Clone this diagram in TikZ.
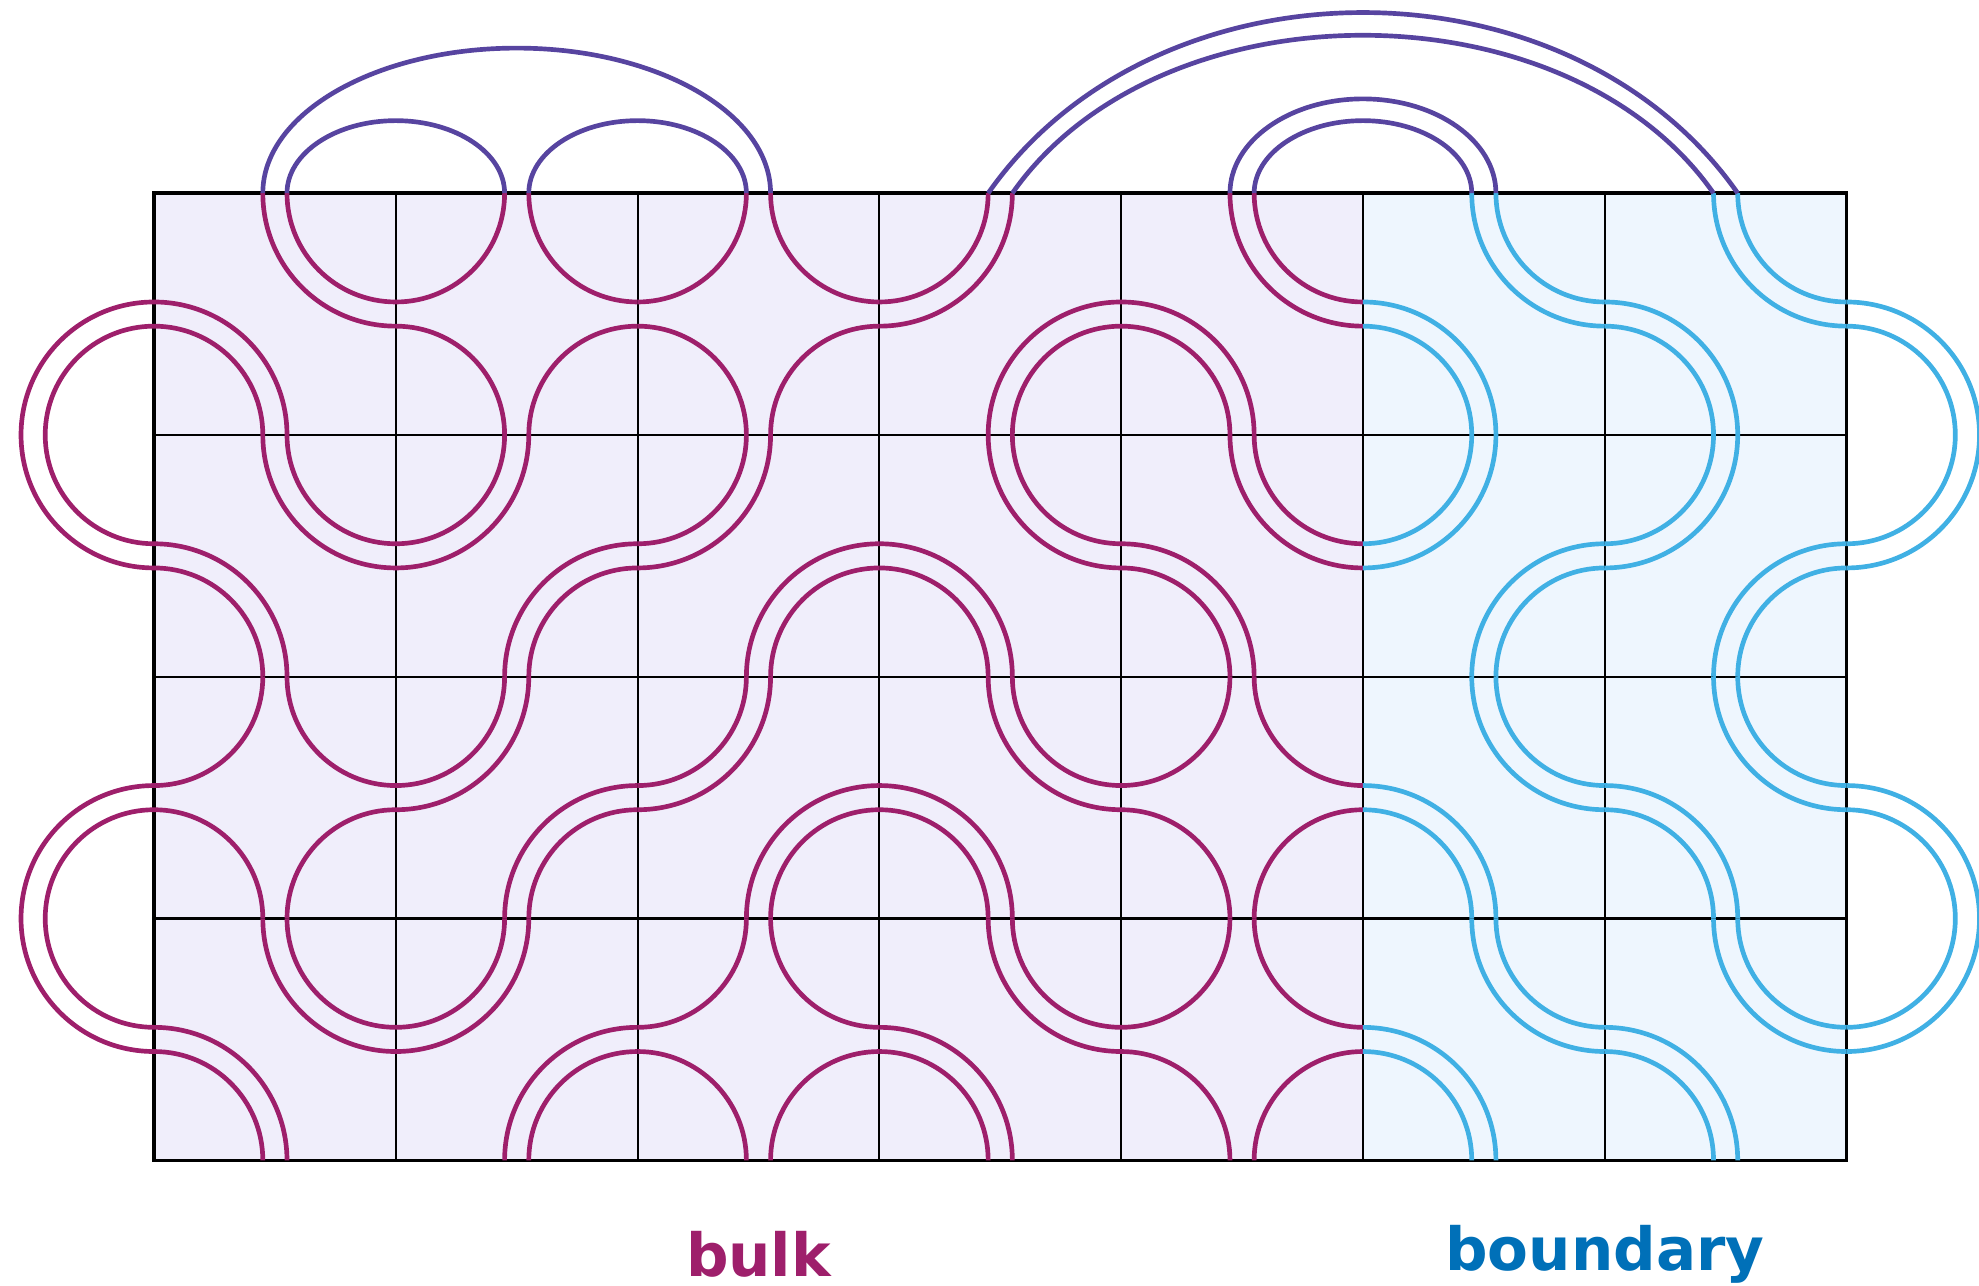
\documentclass[tikz,border=0pt]{standalone}
\usepackage{fontspec}
\newfontfamily\labelfont{DejaVu Sans}
\definecolor{bulkcol}{RGB}{158,31,107}
\definecolor{edgecol}{RGB}{64,176,228}
\definecolor{topcol}{RGB}{87,68,160}
\definecolor{bulkfill}{RGB}{240,238,251}
\definecolor{edgefill}{RGB}{238,246,254}
\definecolor{edgetext}{RGB}{0,112,184}
\begin{document}
\begin{tikzpicture}[x=2cm,y=2cm,
    strand/.style={line width=1.1pt},
    lab/.style={inner sep=0pt,font=\labelfont\bfseries\fontsize{14pt}{17pt}\selectfont}]
  \useasboundingbox (-0.637,-0.517) rectangle (7.548,4.799);
  \fill[bulkfill] (0,0) rectangle (5,4);
  \fill[edgefill] (5,0) rectangle (7,4);
  \foreach \x in {1,...,6}
    \draw[line width=0.5pt] (\x,0) -- (\x,4);
  \foreach \y in {1,2,3}
    \draw[line width=0.5pt] (0,\y) -- (7,\y);
  \draw[line width=0.8pt] (0,0) rectangle (7,4);
  % four small arcs
  \foreach \x/\y in {1/3,2/3,0/1,4/1,2/0,4/0}
    \foreach \a/\cx/\cy in {0/0/0,90/1/0,180/1/1,270/0/1}
      \draw[strand,bulkcol] (\x+\cx,\y+\cy) ++(\a:0.45) arc[start angle=\a,delta angle=90,radius=0.45];
  % pairs round NE and SW corners
  \foreach \x/\y/\c in {0/3/bulkcol,4/3/bulkcol,5/3/edgecol,6/3/edgecol,0/2/bulkcol,3/2/bulkcol,4/2/bulkcol,3/1/bulkcol,5/1/edgecol,6/1/edgecol,0/0/bulkcol,3/0/bulkcol,5/0/edgecol,6/0/edgecol}
    \foreach \r in {0.45,0.55} {
      \draw[strand,draw=\c] (\x+1,\y+1) ++(180:\r) arc[start angle=180,delta angle=90,radius=\r];
      \draw[strand,draw=\c] (\x,\y) ++(0:\r) arc[start angle=0,delta angle=90,radius=\r];
    }
  % pairs round NW and SE corners
  \foreach \x/\y/\c in {3/3/bulkcol,1/2/bulkcol,2/2/bulkcol,5/2/edgecol,6/2/edgecol,1/1/bulkcol,2/1/bulkcol,1/0/bulkcol}
    \foreach \r in {0.45,0.55} {
      \draw[strand,draw=\c] (\x,\y+1) ++(270:\r) arc[start angle=270,delta angle=90,radius=\r];
      \draw[strand,draw=\c] (\x+1,\y) ++(90:\r) arc[start angle=90,delta angle=90,radius=\r];
    }
  \foreach \y in {1,3}
    \foreach \r in {0.45,0.55} {
      \draw[strand,bulkcol] (0,\y) ++(90:\r) arc[start angle=90,delta angle=180,radius=\r];
      \draw[strand,edgecol] (7,\y) ++(-90:\r) arc[start angle=-90,delta angle=180,radius=\r];
    }
  % arcs above the top row
  \draw[strand,topcol] (0.45,4) arc[start angle=180,end angle=0,x radius=1.05,y radius=0.6];
  \foreach \x in {0.55,1.55,4.55}
    \draw[strand,topcol] (\x,4) arc[start angle=180,end angle=0,x radius=0.45,y radius=0.3];
  \draw[strand,topcol] (4.45,4) arc[start angle=180,end angle=0,x radius=0.55,y radius=0.39];
  \draw[strand,topcol] (3.45,4) .. controls +(55:1.216) and +(125:1.216) .. (6.55,4);
  \draw[strand,topcol] (3.55,4) .. controls +(55:1.063) and +(125:1.063) .. (6.45,4);
  \node[lab,text=bulkcol] (bulk) at (2.5,-0.39) {bulk};
  \node[lab,text=edgetext] (boundary) at (6,-0.39) {boundary};
\end{tikzpicture}
\end{document}
